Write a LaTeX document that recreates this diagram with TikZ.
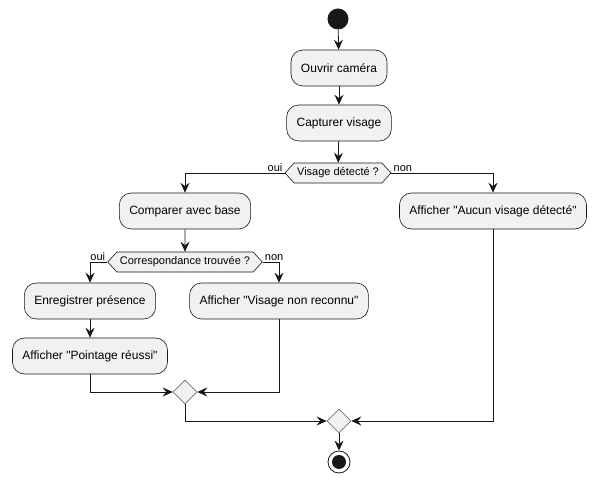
\documentclass[tikz,border=0pt]{standalone}
\usepackage{fontspec}
\setmainfont{Liberation Sans}[Ligatures=TeXOff]
\usetikzlibrary{shapes.geometric,shapes.symbols,arrows.meta}
\definecolor{boxfill}{HTML}{F1F1F1}
\definecolor{ink}{HTML}{181818}
\tikzset{
  act/.style={draw=ink, line width=0.6pt, fill=boxfill, rounded corners=12pt, minimum height=36pt, inner xsep=10pt, font=\fontsize{12}{14}\selectfont},
  cond/.style={draw=ink, line width=0.6pt, fill=boxfill, signal, signal to=west and east, signal pointer angle=95, minimum height=20pt, inner xsep=3pt, inner ysep=1pt, font=\fontsize{11}{13}\selectfont},
  merge/.style={draw=ink!60, line width=0.6pt, fill=boxfill, diamond, minimum size=24pt, inner sep=0pt},
  flow/.style={draw=ink, line width=0.8pt, -{Stealth[length=10pt,width=9pt,inset=3.5pt]}},
  lbl/.style={font=\fontsize{11}{13}\selectfont, inner sep=1pt},
}
\begin{document}
\begin{tikzpicture}[x=1pt,y=-1pt]
\useasboundingbox (0,0) rectangle (598,486);
\node[circle, fill=ink, minimum size=21pt, inner sep=0pt] (start) at (338,19) {};
\node[act] (ouvrir) at (339,68) {Ouvrir caméra};
\node[act] (capt) at (339,123) {Capturer visage};
\node[cond] (q1) at (338,173) {Visage détecté ?};
\node[act] (comp) at (185,211) {Comparer avec base};
\node[act] (aucun) at (493,211) {Afficher "Aucun visage détecté"};
\node[cond] (q2) at (185,262) {Correspondance trouvée ?};
\node[act] (enreg) at (90,301) {Enregistrer présence};
\node[act] (nonrec) at (279,301) {Afficher "Visage non reconnu"};
\node[act] (point) at (90,356) {Afficher "Pointage réussi"};
\node[merge] (m1) at (185,392) {};
\node[merge] (m2) at (339,421) {};
\node[circle, draw=ink, line width=0.8pt, fill=white, minimum size=22pt, inner sep=0pt] (stop) at (339,462) {};
\node[circle, fill=ink, minimum size=14pt, inner sep=0pt] (stopin) at (stop) {};

\coordinate (c1) at (185,173);
\coordinate (c2) at (493,173);
\coordinate (c3) at (90,262);
\coordinate (c4) at (279,262);
\coordinate (c5) at (90,392);
\coordinate (c6) at (279,392);
\coordinate (c7) at (185,421);
\coordinate (c8) at (493,421);

\draw[flow] (start) -- (ouvrir);
\draw[flow] (ouvrir) -- (capt);
\draw[flow] (capt) -- (q1);
\draw[flow] (q1.west) -- (c1) -- (comp.north);
\draw[flow] (q1.east) -- (c2) -- (aucun.north);
\draw[flow] (comp) -- (q2);
\draw[flow] (q2.west) -- (c3) -- (enreg.north);
\draw[flow] (q2.east) -- (c4) -- (nonrec.north);
\draw[flow] (enreg) -- (point);
\draw[flow] (point.south) -- (c5) -- (m1.west);
\draw[flow] (nonrec.south) -- (c6) -- (m1.east);
\draw[flow] (m1.south) -- (c7) -- (m2.west);
\draw[flow] (aucun.south) -- (c8) -- (m2.east);
\draw[flow] (m2) -- (stop);

\node[lbl, anchor=south east] (l1) at ([xshift=-1pt]q1.west) {oui};
\node[lbl, anchor=south west] (l2) at ([xshift=1pt]q1.east) {non};
\node[lbl, anchor=south east] (l3) at ([xshift=-1pt]q2.west) {oui};
\node[lbl, anchor=south west] (l4) at ([xshift=1pt]q2.east) {non};
\end{tikzpicture}
\end{document}
